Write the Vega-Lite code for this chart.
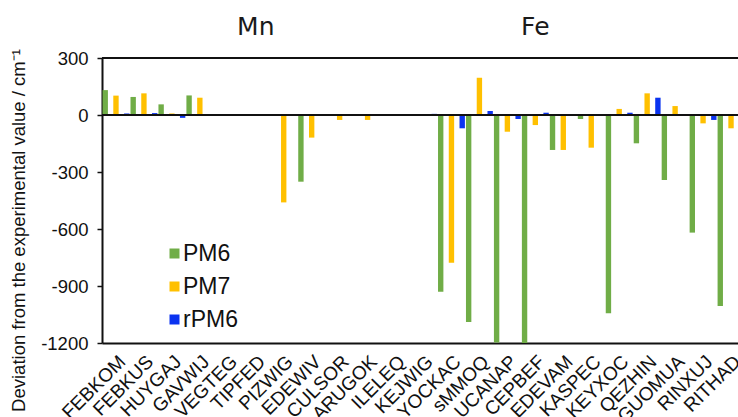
{
  "$schema": "https://vega.github.io/schema/vega-lite/v6.json",
  "autosize": {"type": "none"},
  "padding": {"left": 102, "top": 58, "right": 0, "bottom": 74},
  "width": 636,
  "height": 285,
  "background": "white",
  "config": {
    "view": {"stroke": null},
    "font": "Liberation Sans"
  },
  "datasets": {
    "dev": [
      {"mol": "FEBKOM", "method": "PM6", "dev": 131}, {"mol": "FEBKOM", "method": "PM7", "dev": 102}, {"mol": "FEBKOM", "method": "rPM6", "dev": 8},
      {"mol": "FEBKUS", "method": "PM6", "dev": 95}, {"mol": "FEBKUS", "method": "PM7", "dev": 114}, {"mol": "FEBKUS", "method": "rPM6", "dev": 10},
      {"mol": "HUYGAJ", "method": "PM6", "dev": 56}, {"mol": "HUYGAJ", "method": "PM7", "dev": 8}, {"mol": "HUYGAJ", "method": "rPM6", "dev": -15},
      {"mol": "GAVWIJ", "method": "PM6", "dev": 103}, {"mol": "GAVWIJ", "method": "PM7", "dev": 91}, {"mol": "GAVWIJ", "method": "rPM6", "dev": 0},
      {"mol": "VEGTEG", "method": "PM6", "dev": 1}, {"mol": "VEGTEG", "method": "PM7", "dev": 1}, {"mol": "VEGTEG", "method": "rPM6", "dev": 0},
      {"mol": "TIPFED", "method": "PM6", "dev": 4}, {"mol": "TIPFED", "method": "PM7", "dev": 2}, {"mol": "TIPFED", "method": "rPM6", "dev": 0},
      {"mol": "PIZWIG", "method": "PM6", "dev": 2}, {"mol": "PIZWIG", "method": "PM7", "dev": -460}, {"mol": "PIZWIG", "method": "rPM6", "dev": 0},
      {"mol": "EDEWIV", "method": "PM6", "dev": -351}, {"mol": "EDEWIV", "method": "PM7", "dev": -119}, {"mol": "EDEWIV", "method": "rPM6", "dev": 0},
      {"mol": "CULSOR", "method": "PM6", "dev": -5}, {"mol": "CULSOR", "method": "PM7", "dev": -26}, {"mol": "CULSOR", "method": "rPM6", "dev": 0},
      {"mol": "ARUGOK", "method": "PM6", "dev": 3}, {"mol": "ARUGOK", "method": "PM7", "dev": -26}, {"mol": "ARUGOK", "method": "rPM6", "dev": 0},
      {"mol": "ILELEQ", "method": "PM6", "dev": 4}, {"mol": "ILELEQ", "method": "PM7", "dev": 2}, {"mol": "ILELEQ", "method": "rPM6", "dev": 0},
      {"mol": "KEJWIG", "method": "PM6", "dev": 3}, {"mol": "KEJWIG", "method": "PM7", "dev": 2}, {"mol": "KEJWIG", "method": "rPM6", "dev": 6},
      {"mol": "YOCKAC", "method": "PM6", "dev": -930}, {"mol": "YOCKAC", "method": "PM7", "dev": -777}, {"mol": "YOCKAC", "method": "rPM6", "dev": -70},
      {"mol": "sMMOQ", "method": "PM6", "dev": -1089}, {"mol": "sMMOQ", "method": "PM7", "dev": 196}, {"mol": "sMMOQ", "method": "rPM6", "dev": 21},
      {"mol": "UCANAP", "method": "PM6", "dev": -1197}, {"mol": "UCANAP", "method": "PM7", "dev": -88}, {"mol": "UCANAP", "method": "rPM6", "dev": -21},
      {"mol": "CEPBEF", "method": "PM6", "dev": -1215}, {"mol": "CEPBEF", "method": "PM7", "dev": -53}, {"mol": "CEPBEF", "method": "rPM6", "dev": 12},
      {"mol": "EDEVAM", "method": "PM6", "dev": -184}, {"mol": "EDEVAM", "method": "PM7", "dev": -184}, {"mol": "EDEVAM", "method": "rPM6", "dev": 3},
      {"mol": "KASPEC", "method": "PM6", "dev": -21}, {"mol": "KASPEC", "method": "PM7", "dev": -172}, {"mol": "KASPEC", "method": "rPM6", "dev": 0},
      {"mol": "KEYXOC", "method": "PM6", "dev": -1044}, {"mol": "KEYXOC", "method": "PM7", "dev": 32}, {"mol": "KEYXOC", "method": "rPM6", "dev": 12},
      {"mol": "QEZHIN", "method": "PM6", "dev": -149}, {"mol": "QEZHIN", "method": "PM7", "dev": 114}, {"mol": "QEZHIN", "method": "rPM6", "dev": 91},
      {"mol": "GUOMUA", "method": "PM6", "dev": -342}, {"mol": "GUOMUA", "method": "PM7", "dev": 47}, {"mol": "GUOMUA", "method": "rPM6", "dev": 3},
      {"mol": "RINXUJ", "method": "PM6", "dev": -619}, {"mol": "RINXUJ", "method": "PM7", "dev": -44}, {"mol": "RINXUJ", "method": "rPM6", "dev": -26},
      {"mol": "RITHAD", "method": "PM6", "dev": -1005}, {"mol": "RITHAD", "method": "PM7", "dev": -70}, {"mol": "RITHAD", "method": "rPM6", "dev": -15}
    ],
    "lines": [{"v": 300}, {"v": 0}],
    "metals": [{"metal": "Mn", "mol": "TIPFED", "pos": 421}, {"metal": "Fe", "mol": "CEPBEF", "pos": 421}]
  },
  "encoding": {
    "x": {
      "field": "mol",
      "type": "nominal",
      "scale": {
        "domain": ["FEBKOM", "FEBKUS", "HUYGAJ", "GAVWIJ", "VEGTEG", "TIPFED", "PIZWIG", "EDEWIV", "CULSOR", "ARUGOK", "ILELEQ", "KEJWIG", "YOCKAC", "sMMOQ", "UCANAP", "CEPBEF", "EDEVAM", "KASPEC", "KEYXOC", "QEZHIN", "GUOMUA", "RINXUJ", "RITHAD"],
        "range": [0, 643],
        "paddingInner": 0,
        "paddingOuter": 0
      },
      "axis": {
        "title": null,
        "labelAngle": -45,
        "labelAlign": "right",
        "labelBaseline": "top",
        "labelFontSize": 19,
        "labelColor": "#111",
        "labelPadding": 9,
        "labelOverlap": false,
        "labelBound": false,
        "ticks": false,
        "domainColor": "#111",
        "domainWidth": 2,
        "grid": false
      }
    }
  },
  "layer": [
    {
      "data": {"name": "dev"},
      "mark": {"type": "bar", "clip": true},
      "encoding": {
        "xOffset": {"field": "method", "type": "nominal", "scale": {"domain": ["PM6", "PM7", "rPM6"], "paddingInner": 0.5, "paddingOuter": 0.05}},
        "y": {
          "field": "dev",
          "type": "quantitative",
          "scale": {"domain": [-1200, 300], "nice": false, "zero": false},
          "axis": {
            "values": [-1200, -900, -600, -300, 0, 300],
            "labelExpr": "datum.value < 0 ? '-' + format(-datum.value, 'd') : format(datum.value, 'd')",
            "title": "Deviation from the experimental value / cm⁻¹",
            "titleFontSize": 18.5,
            "titleFontWeight": "normal",
            "titleColor": "#111",
            "titlePadding": 12,
            "titleY": 172,
            "labelFontSize": 18.5,
            "labelColor": "#111",
            "labelPadding": 9,
            "tickSize": 5,
            "tickColor": "#111",
            "tickWidth": 1.5,
            "domainColor": "#111",
            "domainWidth": 2,
            "grid": false
          }
        },
        "color": {
          "field": "method",
          "type": "nominal",
          "scale": {"domain": ["PM6", "PM7", "rPM6"], "range": ["#70AD47", "#FFC000", "#0A33F0"]},
          "legend": {
            "title": null,
            "orient": "none",
            "legendX": 61,
            "legendY": 184,
            "symbolType": "square",
            "symbolSize": 100,
            "symbolStrokeWidth": 0,
            "labelFontSize": 23,
            "labelColor": "#111",
            "labelOffset": -3,
            "rowPadding": 9
          }
        }
      }
    },
    {
      "data": {"name": "lines"},
      "mark": {"type": "rule", "color": "#111", "strokeWidth": 2.2},
      "encoding": {"y": {"field": "v", "type": "quantitative"}, "x": null}
    },
    {
      "data": {"name": "metals"},
      "mark": {"type": "text", "font": "DejaVu Sans", "fontSize": 25, "color": "#1a1a1a", "baseline": "alphabetic", "clip": false},
      "encoding": {
        "y": {"field": "pos", "type": "quantitative"},
        "text": {"field": "metal"}
      }
    }
  ]
}
